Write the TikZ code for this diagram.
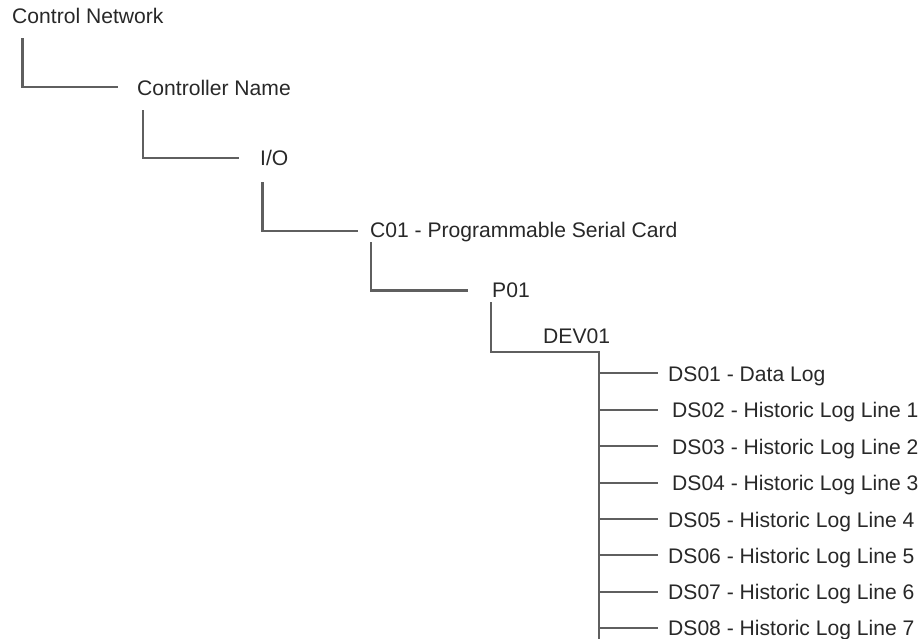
\documentclass[tikz,border=0pt]{standalone}
\usepackage{fontspec}
\setmainfont{Liberation Sans}
\definecolor{linegray}{RGB}{95,95,95}
\definecolor{txt}{RGB}{40,40,40}
\begin{document}
\begin{tikzpicture}[x=1pt,y=-1pt,
  lbl/.style={anchor=base west,inner sep=0pt,text=txt,font=\fontsize{21.1}{24}\selectfont},
  conn/.style={draw=linegray,line width=2.2pt}]
\useasboundingbox[fill=white] (0,0) rectangle (924,638);
% labels
\node[lbl] (cn)   at (12,23)  {Control Network};
\node[lbl] (ctrl) at (137,95) {Controller Name};
\node[lbl] (io)   at (260,165) {I/O};
\node[lbl] (c01)  at (370,237) {C01 - Programmable Serial Card};
\node[lbl] (p01)  at (492,297) {P01};
\node[lbl] (dev)  at (543,343) {DEV01};
\node[lbl] (ds1) at (668,381) {DS01 - Data Log};
\node[lbl] (ds2) at (672,417) {DS02 - Historic Log Line 1};
\node[lbl] (ds3) at (672,454) {DS03 - Historic Log Line 2};
\node[lbl] (ds4) at (672,490) {DS04 - Historic Log Line 3};
\node[lbl] (ds5) at (668,527) {DS05 - Historic Log Line 4};
\node[lbl] (ds6) at (668,563) {DS06 - Historic Log Line 5};
\node[lbl] (ds7) at (668,599) {DS07 - Historic Log Line 6};
\node[lbl] (ds8) at (668,635) {DS08 - Historic Log Line 7};
% connector end points
\coordinate (a1) at (22.5,38);  \coordinate (a2) at (118,87);
\coordinate (b1) at (143,110);  \coordinate (b2) at (239,158);
\coordinate (c1) at (262.5,182);\coordinate (c2) at (358,231);
\coordinate (d1) at (371,242);  \coordinate (d2) at (468,290.5);
\coordinate (e1) at (491,302);  \coordinate (e2) at (599,352);
\coordinate (bus) at (599,645);
\draw[conn] (a1) |- (a2);
\draw[conn] (b1) |- (b2);
\draw[conn] (c1) |- (c2);
\draw[conn] (d1) |- (d2);
\draw[conn] (e1) |- (e2) -- (bus);
\foreach \n/\y in {1/373,2/410,3/446,4/483,5/519,6/555,7/592,8/628}{
  \coordinate (t\n) at (658,\y);
  \draw[conn] (t\n -| e2) -- (t\n);
}
\end{tikzpicture}
\end{document}
